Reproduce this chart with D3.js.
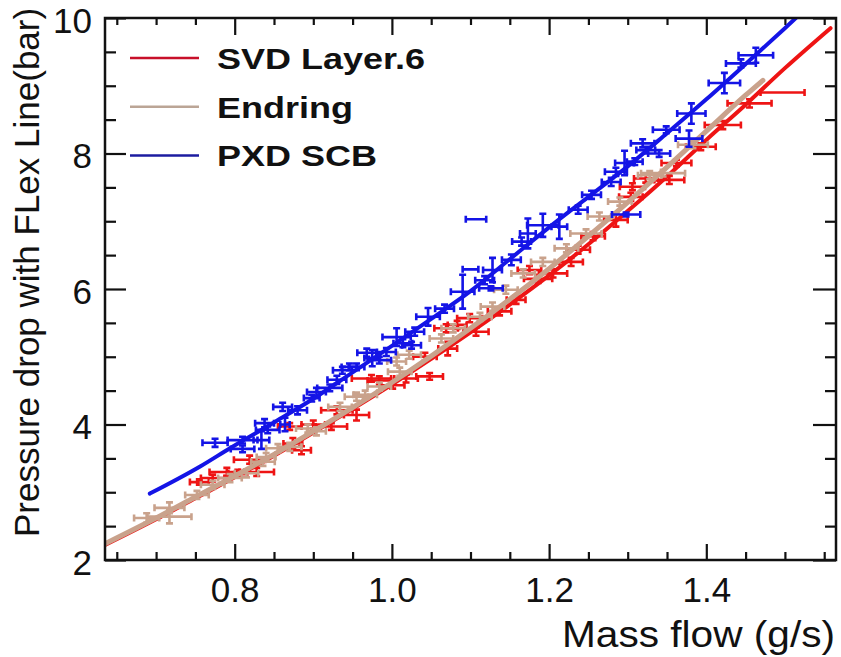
<!DOCTYPE html>
<html>
<head>
<meta charset="utf-8">
<script src="https://cdn.jsdelivr.net/npm/d3@7"></script>
<style>
  html, body { margin: 0; padding: 0; background: #fff; }
  svg { display: block; }
  text { font-family: "Liberation Sans", Arial, sans-serif; fill: #111; }
</style>
</head>
<body>
<svg id="chart" width="841" height="657"></svg>
<script>
// fit curves (mass flow g/s, pressure drop bar)
const svdFitX = [0.635, 0.70, 0.75, 0.80, 0.85, 0.90, 0.95, 1.00, 1.05, 1.10, 1.15, 1.20, 1.25, 1.30, 1.35, 1.40, 1.45, 1.50, 1.558];
const svdFitY = [2.22, 2.60, 2.91, 3.22, 3.54, 3.88, 4.23, 4.59, 4.97, 5.36, 5.77, 6.20, 6.66, 7.15, 7.66, 8.20, 8.72, 9.26, 9.85];

const endFitX = [0.635, 0.70, 0.75, 0.80, 0.85, 0.90, 0.95, 1.00, 1.05, 1.10, 1.15, 1.20, 1.25, 1.30, 1.35, 1.40, 1.45, 1.472];
const endFitY = [2.24, 2.62, 2.93, 3.24, 3.56, 3.90, 4.25, 4.62, 5.01, 5.42, 5.85, 6.30, 6.78, 7.28, 7.80, 8.33, 8.86, 9.08];

const pxdFitX = [0.692, 0.756, 0.794, 0.85, 0.90, 0.95, 1.00, 1.05, 1.10, 1.15, 1.20, 1.25, 1.30, 1.35, 1.40, 1.45, 1.50, 1.525];
const pxdFitY = [2.98, 3.38, 3.65, 4.03, 4.38, 4.77, 5.16, 5.56, 5.97, 6.44, 6.91, 7.36, 7.81, 8.30, 8.80, 9.32, 9.85, 10.12];

// measured points: [mass flow, pressure drop, x error, y error]
const svdPoints = [
  [0.755, 3.15, 0.012, 0.04], [0.772, 3.21, 0.015, 0.05], [0.790, 3.30, 0.022, 0.06],
  [0.804, 3.28, 0.012, 0.05], [0.819, 3.48, 0.020, 0.06], [0.828, 3.30, 0.022, 0.06],
  [0.870, 3.97, 0.015, 0.05], [0.874, 3.72, 0.012, 0.08], [0.885, 3.62, 0.012, 0.06],
  [0.900, 4.00, 0.015, 0.06], [0.923, 3.97, 0.020, 0.05], [0.930, 4.21, 0.020, 0.06],
  [0.955, 4.14, 0.016, 0.08], [0.974, 4.68, 0.025, 0.05], [0.984, 4.65, 0.015, 0.06],
  [1.001, 4.58, 0.015, 0.05], [1.018, 4.68, 0.015, 0.06], [1.042, 5.00, 0.015, 0.06],
  [1.048, 4.71, 0.017, 0.05], [1.069, 5.42, 0.015, 0.06], [1.071, 5.12, 0.012, 0.10],
  [1.083, 5.47, 0.012, 0.06], [1.099, 5.57, 0.016, 0.06], [1.107, 5.37, 0.016, 0.06],
  [1.137, 5.67, 0.015, 0.06], [1.158, 5.84, 0.012, 0.06], [1.175, 6.28, 0.015, 0.06],
  [1.186, 6.15, 0.018, 0.06], [1.205, 6.23, 0.018, 0.06], [1.228, 6.40, 0.015, 0.06],
  [1.237, 6.58, 0.015, 0.06], [1.256, 6.78, 0.015, 0.06], [1.285, 7.02, 0.015, 0.10],
  [1.304, 7.36, 0.015, 0.06], [1.306, 7.51, 0.016, 0.05], [1.323, 7.63, 0.015, 0.06],
  [1.353, 7.61, 0.019, 0.06], [1.362, 7.86, 0.019, 0.05], [1.393, 8.10, 0.019, 0.05],
  [1.421, 8.42, 0.023, 0.06], [1.455, 8.74, 0.028, 0.06], [1.497, 8.90, 0.028, 0.00]
];

const endPoints = [
  [0.688, 2.62, 0.016, 0.07], [0.717, 2.77, 0.019, 0.08], [0.717, 2.64, 0.028, 0.10],
  [0.752, 2.96, 0.015, 0.06], [0.772, 3.11, 0.015, 0.06], [0.794, 3.21, 0.015, 0.06],
  [0.815, 3.28, 0.015, 0.06], [0.836, 3.45, 0.015, 0.06], [0.840, 3.52, 0.012, 0.06],
  [0.855, 3.65, 0.015, 0.06], [0.870, 3.67, 0.015, 0.06], [0.893, 3.94, 0.015, 0.06],
  [0.904, 3.90, 0.012, 0.06], [0.934, 4.26, 0.015, 0.06], [0.955, 4.41, 0.015, 0.06],
  [0.966, 4.44, 0.015, 0.06], [0.984, 4.56, 0.015, 0.06], [1.006, 4.93, 0.012, 0.06],
  [1.010, 4.78, 0.015, 0.06], [1.022, 5.03, 0.015, 0.06], [1.063, 5.27, 0.015, 0.06],
  [1.078, 5.42, 0.015, 0.06], [1.112, 5.59, 0.015, 0.06], [1.128, 5.74, 0.015, 0.06],
  [1.145, 5.99, 0.015, 0.06], [1.167, 6.23, 0.015, 0.06], [1.192, 6.40, 0.015, 0.06],
  [1.222, 6.60, 0.015, 0.06], [1.247, 6.82, 0.020, 0.06], [1.264, 7.07, 0.015, 0.06],
  [1.290, 7.29, 0.015, 0.06], [1.328, 7.68, 0.015, 0.06], [1.345, 7.71, 0.028, 0.05],
  [1.383, 8.13, 0.019, 0.05]
];

const pxdPoints = [
  [0.775, 3.73, 0.016, 0.06], [0.810, 3.77, 0.019, 0.05], [0.810, 3.64, 0.015, 0.05],
  [0.834, 3.77, 0.010, 0.13], [0.838, 4.02, 0.012, 0.06], [0.842, 3.92, 0.015, 0.05],
  [0.861, 4.26, 0.012, 0.06], [0.864, 4.00, 0.006, 0.10], [0.880, 4.21, 0.012, 0.06],
  [0.898, 4.39, 0.010, 0.05], [0.904, 4.48, 0.012, 0.06], [0.921, 4.54, 0.016, 0.05],
  [0.930, 4.66, 0.012, 0.06], [0.937, 4.80, 0.012, 0.05], [0.946, 4.85, 0.010, 0.05],
  [0.955, 4.85, 0.010, 0.05], [0.968, 5.06, 0.012, 0.06], [0.975, 4.98, 0.010, 0.12],
  [0.984, 4.95, 0.015, 0.05], [0.993, 5.07, 0.012, 0.06], [1.006, 5.29, 0.018, 0.13],
  [1.014, 5.20, 0.012, 0.06], [1.025, 5.17, 0.012, 0.05], [1.029, 5.37, 0.012, 0.06],
  [1.046, 5.59, 0.015, 0.13], [1.067, 5.71, 0.012, 0.06], [1.090, 5.96, 0.015, 0.25],
  [1.100, 6.29, 0.010, 0.00], [1.107, 7.03, 0.013, 0.00], [1.118, 6.13, 0.012, 0.06],
  [1.128, 6.28, 0.012, 0.18], [1.126, 6.01, 0.015, 0.03], [1.152, 6.43, 0.012, 0.08],
  [1.165, 6.70, 0.012, 0.06], [1.173, 6.82, 0.010, 0.22], [1.192, 6.94, 0.020, 0.17],
  [1.213, 6.92, 0.010, 0.18], [1.237, 7.17, 0.012, 0.06], [1.254, 7.39, 0.012, 0.06],
  [1.279, 7.58, 0.012, 0.06], [1.285, 7.73, 0.014, 0.06], [1.296, 7.86, 0.012, 0.18],
  [1.298, 7.10, 0.018, 0.03], [1.309, 7.88, 0.010, 0.05], [1.319, 8.15, 0.015, 0.06],
  [1.323, 8.05, 0.012, 0.05], [1.340, 8.00, 0.014, 0.05], [1.349, 8.35, 0.017, 0.05],
  [1.378, 8.22, 0.017, 0.12], [1.381, 8.59, 0.018, 0.15], [1.423, 9.04, 0.020, 0.15],
  [1.444, 9.33, 0.019, 0.06], [1.463, 9.45, 0.022, 0.11]
];

const seriesNames = ["SVD Layer.6", "Endring", "PXD SCB"];
const xMajorTicks = [0.8, 1.0, 1.2, 1.4];
const xMinorTicks = [0.65, 0.7, 0.75, 0.85, 0.9, 0.95, 1.05, 1.1, 1.15, 1.25, 1.3, 1.35, 1.45, 1.5, 1.55];
const yMajorTicks = [2, 4, 6, 8, 10];
const yMinorTicks = [2.5, 3, 3.5, 4.5, 5, 5.5, 6.5, 7, 7.5, 8.5, 9, 9.5];

const svg = d3.select("#chart");
const margin = { top: 18, right: 5, bottom: 97, left: 105 };
const width = +svg.attr("width") - margin.left - margin.right;
const height = +svg.attr("height") - margin.top - margin.bottom;

const x = d3.scaleLinear().domain([0.635, 1.565]).range([0, width]);
const y = d3.scaleLinear().domain([2, 10]).range([height, 0]);

const g = svg.append("g").attr("transform", `translate(${margin.left},${margin.top})`);

g.append("clipPath").attr("id", "plotClip")
  .append("rect").attr("width", width).attr("height", height);

// ticks on all four sides, pointing inwards
function styleAxis(sel) {
  sel.select(".domain").remove();
  sel.selectAll("line").attr("stroke", "#111").attr("stroke-width", 2.2);
  sel.selectAll("text").style("font-size", "35px").attr("fill", "#111");
}

g.append("g").attr("transform", `translate(0,${height})`)
  .call(d3.axisBottom(x).tickValues(xMajorTicks).tickSize(-16).tickPadding(17).tickFormat(d3.format(".1f")))
  .call(styleAxis);
g.append("g").attr("transform", `translate(0,${height})`)
  .call(d3.axisBottom(x).tickValues(xMinorTicks).tickSize(-8).tickFormat(""))
  .call(styleAxis);
g.append("g")
  .call(d3.axisTop(x).tickValues(xMajorTicks).tickSize(-17).tickFormat(""))
  .call(styleAxis);
g.append("g")
  .call(d3.axisTop(x).tickValues(xMinorTicks).tickSize(-7).tickFormat(""))
  .call(styleAxis);

g.append("g")
  .call(d3.axisLeft(y).tickValues(yMajorTicks).tickSize(-21).tickPadding(13).tickFormat(d3.format("d")))
  .call(styleAxis)
  .call(s => s.selectAll("text").attr("dy", "0.4em"));
g.append("g")
  .call(d3.axisLeft(y).tickValues(yMinorTicks).tickSize(-11).tickFormat(""))
  .call(styleAxis);
g.append("g").attr("transform", `translate(${width},0)`)
  .call(d3.axisRight(y).tickValues(yMajorTicks).tickSize(-23).tickFormat(""))
  .call(styleAxis);
g.append("g").attr("transform", `translate(${width},0)`)
  .call(d3.axisRight(y).tickValues(yMinorTicks).tickSize(-11).tickFormat(""))
  .call(styleAxis);

const series = [
  { name: seriesNames[0], color: "#ee1414", legendColor: "#c8102a", lw: 4, fitX: svdFitX, fitY: svdFitY, pts: svdPoints },
  { name: seriesNames[1], color: "#c9a28c", legendColor: "#bba596", lw: 5, fitX: endFitX, fitY: endFitY, pts: endPoints },
  { name: seriesNames[2], color: "#1414e6", legendColor: "#1c1ca0", lw: 4, fitX: pxdFitX, fitY: pxdFitY, pts: pxdPoints }
];

const plot = g.append("g").attr("clip-path", "url(#plotClip)");
const line = d3.line().x(d => x(d[0])).y(d => y(d[1])).curve(d3.curveMonotoneX);
const cap = 3.5;

series.forEach(s => {
  const eg = plot.append("g").attr("stroke", s.color).attr("stroke-width", 2.6).attr("fill", "none");
  s.pts.forEach(p => {
    const cx = x(p[0]), cy = y(p[1]);
    const x0 = x(p[0] - p[2]), x1 = x(p[0] + p[2]);
    const y0 = y(p[1] - p[3]), y1 = y(p[1] + p[3]);
    let d = `M${x0},${cy}H${x1}M${x0},${cy - cap}V${cy + cap}M${x1},${cy - cap}V${cy + cap}`;
    if (p[3] > 0) {
      d += `M${cx},${y0}V${y1}M${cx - cap},${y0}H${cx + cap}M${cx - cap},${y1}H${cx + cap}`;
    }
    eg.append("path").attr("d", d);
  });
  plot.append("path")
    .datum(s.fitX.map((v, i) => [v, s.fitY[i]]))
    .attr("fill", "none")
    .attr("stroke", s.color)
    .attr("stroke-width", s.lw)
    .attr("stroke-linecap", "round")
    .attr("d", line);
});

// frame
g.append("rect").attr("width", width).attr("height", height)
  .attr("fill", "none").attr("stroke", "#111").attr("stroke-width", 2.5);

// legend
const legend = g.append("g").attr("transform", "translate(25,40)");
series.forEach((s, i) => {
  const row = legend.append("g").attr("transform", `translate(0,${i * 48.7})`);
  row.append("line").attr("x1", 0).attr("x2", 69).attr("y1", 0).attr("y2", 0)
    .attr("stroke", s.legendColor).attr("stroke-width", 2.5);
  row.append("text")
    .attr("transform", "translate(87,11) scale(1.2,1)")
    .style("font-size", "30px").style("font-weight", "bold")
    .text(s.name);
});

// axis titles
svg.append("text")
  .attr("x", 835).attr("y", 647)
  .attr("text-anchor", "end")
  .style("font-size", "37px")
  .attr("textLength", 273).attr("lengthAdjust", "spacingAndGlyphs")
  .text("Mass flow (g/s)");

svg.append("text")
  .attr("transform", "translate(39,537) rotate(-90)")
  .attr("text-anchor", "start")
  .style("font-size", "35px")
  .text("Pressure drop with FLex Line(bar)");
</script>
</body>
</html>
